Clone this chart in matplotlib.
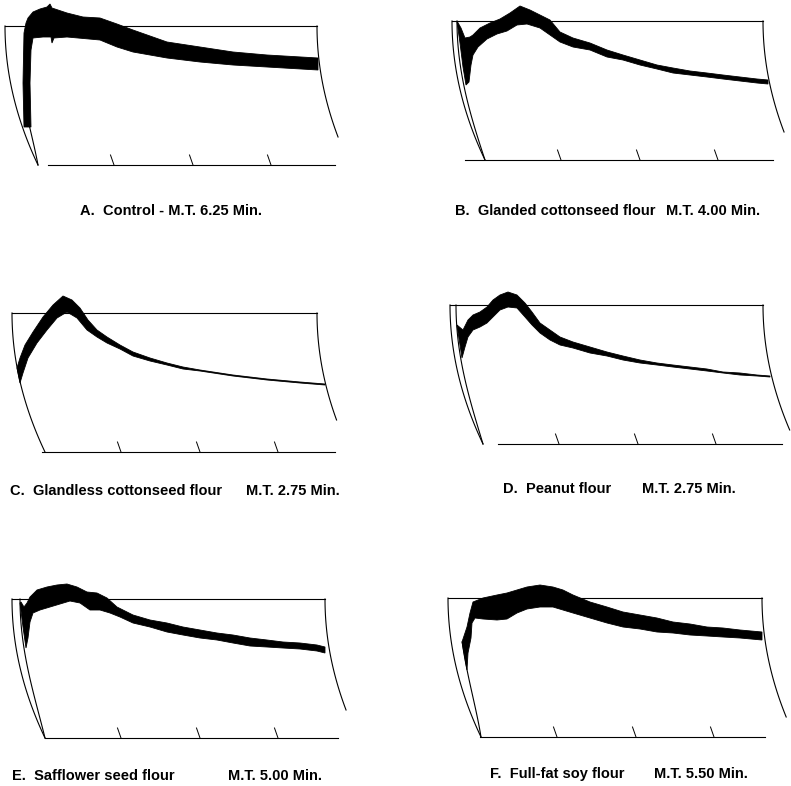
import numpy as np
import matplotlib.pyplot as plt

W, H = 791, 786

# captions
letters = ['A', 'B', 'C', 'D', 'E', 'F']
names = ['Control', 'Glanded cottonseed flour', 'Glandless cottonseed flour',
         'Peanut flour', 'Safflower seed flour', 'Full-fat soy flour']
mix_times = [6.25, 4.00, 2.75, 2.75, 5.00, 5.50]

# curve envelopes
# x = along the chart from the top-left corner, y = down from the top line
A_upper = [(19, 101), (18, 57), (19, 7), (21, -3), (23, -8), (28, -14), (35, -17), (42, -19),
           (45, -22), (47, -18), (62, -13), (78, -9), (95, -8), (112, -2), (128, 4), (162, 16),
           (195, 21), (228, 26), (262, 29), (313, 32)]
A_lower = [(26, 101), (25, 57), (26, 24), (28, 12), (38, 11), (46, 11), (47, 17), (49, 12),
           (62, 11), (95, 14), (112, 21), (128, 26), (145, 29), (162, 32), (195, 36), (228, 39),
           (262, 41), (313, 44)]

B_upper = [(5, 0), (9, 7), (13, 17), (18, 16), (21, 14), (28, 7), (38, 2), (48, -2), (58, -8),
           (68, -15), (78, -11), (88, -6), (98, -1), (108, 11), (121, 17), (138, 22), (155, 29),
           (171, 34), (188, 39), (205, 44), (221, 47), (238, 50), (255, 52), (271, 54), (288, 56),
           (305, 58), (316, 59)]
B_lower = [(5, 1), (8, 22), (11, 46), (14, 64), (17, 61), (19, 44), (21, 34), (26, 26), (35, 18),
           (45, 13), (55, 10), (65, 4), (75, 3), (88, 7), (98, 14), (108, 21), (121, 26), (138, 29),
           (155, 36), (171, 39), (188, 44), (205, 48), (221, 52), (238, 54), (255, 56), (271, 58),
           (288, 60), (305, 62), (316, 63)]

C_upper = [(5, 55), (8, 45), (13, 32), (21, 19), (31, 4), (41, -8), (51, -17), (60, -13), (68, -5),
           (76, 7), (85, 17), (95, 24), (108, 32), (121, 39), (138, 45), (155, 50), (171, 54),
           (188, 57), (221, 62), (255, 66), (288, 69), (313, 71)]
C_lower = [(8, 70), (11, 60), (16, 45), (25, 30), (35, 17), (45, 5), (55, -1), (65, 5), (75, 17),
           (85, 24), (95, 30), (108, 36), (121, 43), (138, 48), (155, 52), (171, 56), (188, 58),
           (221, 63), (255, 67), (288, 70), (313, 72)]

D_upper = [(7, 20), (13, 25), (18, 15), (23, 10), (30, 7), (37, 2), (43, -5), (50, -10), (58, -13),
           (67, -10), (75, -2), (82, 7), (90, 18), (100, 25), (110, 32), (123, 37), (140, 42),
           (157, 47), (173, 51), (190, 55), (207, 58), (223, 60), (240, 62), (257, 64), (273, 67),
           (290, 68), (307, 70), (320, 71)]
D_lower = [(7, 21), (10, 40), (12, 53), (15, 42), (18, 32), (23, 25), (30, 22), (37, 18), (43, 12),
           (50, 5), (58, 2), (67, 3), (75, 12), (82, 20), (90, 28), (100, 35), (110, 40), (123, 43),
           (140, 48), (157, 51), (173, 55), (190, 58), (207, 60), (223, 62), (240, 64), (257, 66),
           (273, 68), (290, 70), (307, 71), (320, 72)]

E_upper = [(9, 3), (12, 8), (15, 4), (18, -2), (25, -9), (35, -12), (45, -14), (55, -15), (65, -12),
           (75, -7), (85, -6), (95, -1), (105, 8), (121, 16), (138, 21), (155, 24), (171, 28),
           (188, 31), (205, 34), (221, 36), (238, 39), (255, 41), (271, 43), (288, 44), (305, 46),
           (313, 48)]
E_lower = [(8, 4), (11, 28), (14, 49), (16, 39), (18, 23), (21, 14), (28, 11), (38, 8), (48, 5),
           (58, 2), (68, 4), (78, 11), (88, 11), (98, 14), (108, 18), (121, 24), (138, 28), (155, 33),
           (171, 36), (188, 39), (205, 41), (221, 44), (238, 47), (255, 48), (271, 49), (288, 50),
           (305, 52), (313, 54)]

F_upper = [(14, 44), (19, 29), (22, 15), (25, 4), (35, 0), (49, -3), (59, -5), (69, -8), (79, -11),
           (92, -13), (105, -11), (115, -8), (125, -3), (142, 4), (159, 9), (175, 14), (192, 17),
           (209, 20), (225, 24), (242, 26), (259, 29), (275, 30), (292, 32), (314, 34)]
F_lower = [(19, 72), (20, 55), (23, 40), (24, 25), (27, 20), (35, 21), (49, 22), (59, 21), (69, 15),
           (79, 11), (92, 9), (105, 9), (115, 12), (125, 15), (142, 20), (159, 25), (175, 29),
           (192, 31), (209, 34), (225, 35), (242, 37), (259, 38), (275, 39), (292, 40), (314, 42)]

uppers = [A_upper, B_upper, C_upper, D_upper, E_upper, F_upper]
lowers = [A_lower, B_lower, C_lower, D_lower, E_lower, F_lower]

# layout (pixels): top-left corner of each chart, widths, arcs, baseline
origins = [(5, 26), (452, 21), (12, 313), (450, 305), (12, 599), (448, 598)]
widths = [312, 311, 305, 313, 313, 314]
right_ends = [111, 111, 107, 125, 111, 119]
baselines = [(43, 330), (13, 321), (30, 323), (48, 332), (33, 326), (32, 317)]
trace_off = [10, 5, 0, 6, 8, 11]      # pen trace beside the left arc
trace_top = [101, 0, 0, 0, 0, 44]
ticks = [109, 188, 266]
HGT = 139

# caption positions (pixels): name x, M.T. x, y
cap_pos = [(80, None, 211), (455, 666, 211), (10, 246, 491),
           (503, 642, 489), (12, 228, 776), (490, 654, 774)]


def arc(h):
    return 33 * (h / HGT) ** 2


fig = plt.figure(figsize=(W / 100, H / 100), dpi=100)
lw = 0.8

for i in range(6):
    ox, oy = origins[i]
    ax = fig.add_axes([(ox - 10) / W, (H - (oy + 150)) / H, 360 / W, 180 / H])
    ax.set_xlim(-10, 350)
    ax.set_ylim(150, -30)
    ax.axis('off')

    h = np.linspace(0, HGT, 80)
    ax.plot(arc(h), h, color='k', lw=lw)
    ax.plot([0, widths[i]], [0, 0], color='k', lw=lw)
    hr = np.linspace(0, right_ends[i], 80)
    ax.plot(widths[i] + arc(hr), hr, color='k', lw=lw)
    ax.plot(baselines[i], [HGT, HGT], color='k', lw=lw)
    for t in ticks:
        ax.plot([t - 3.5, t], [HGT - 10, HGT], color='k', lw=0.7)

    if trace_off[i]:
        ht = np.linspace(trace_top[i], HGT, 60)
        ax.plot(arc(ht) + trace_off[i] * (1 - (ht / HGT) ** 4), ht, color='k', lw=lw)

    ux, uy = zip(*uppers[i])
    lx, ly = zip(*lowers[i])
    ax.fill(list(ux) + list(lx[::-1]), list(uy) + list(ly[::-1]),
            facecolor='k', edgecolor='k', lw=0.6)

fam = ['Liberation Sans', 'DejaVu Sans']
fs = 10.5
for i in range(6):
    nx, mx, y = cap_pos[i]
    if mx is None:
        txt = f'{letters[i]}.  {names[i]} - M.T. {mix_times[i]:.2f} Min.'
        fig.text(nx / W, 1 - y / H, txt, ha='left', va='center', fontsize=fs,
                 fontweight='bold', family=fam)
    else:
        fig.text(nx / W, 1 - y / H, f'{letters[i]}.  {names[i]}', ha='left', va='center',
                 fontsize=fs, fontweight='bold', family=fam)
        fig.text(mx / W, 1 - y / H, f'M.T. {mix_times[i]:.2f} Min.', ha='left', va='center',
                 fontsize=fs, fontweight='bold', family=fam)

fig.savefig('out.png', dpi=100)
